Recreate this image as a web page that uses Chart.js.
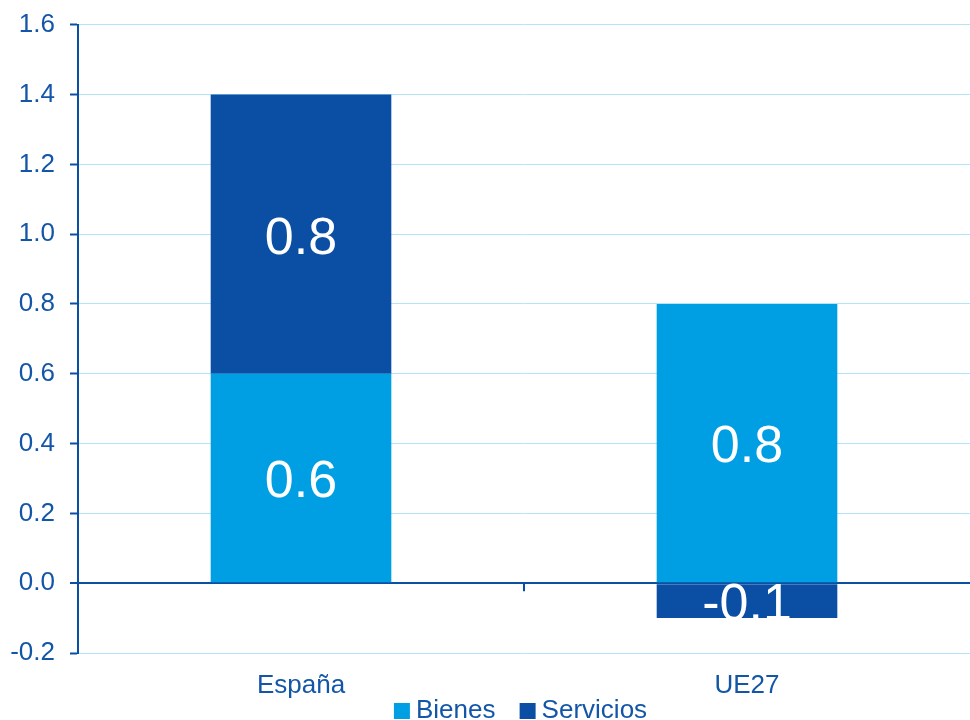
<!DOCTYPE html>
<html>
<head>
<meta charset="utf-8">
<script src="https://cdn.jsdelivr.net/npm/chart.js@4.4.1/dist/chart.umd.min.js"></script>
<style>
  html, body { margin: 0; padding: 0; background: #fff; }
  #wrap { width: 970px; height: 720px; }
</style>
</head>
<body>
<div id="wrap"><canvas id="chart" width="970" height="720"></canvas></div>
<script>
const categories = ['España', 'UE27'];
const bienes = [0.6, 0.8];
const servicios = [0.8, -0.1];
const yTicks = [-0.2, 0.0, 0.2, 0.4, 0.6, 0.8, 1.0, 1.2, 1.4, 1.6];

const LIGHT = '#009FE3';
const DARK = '#0A4FA3';
const TEXT = '#1356A8';
const GRID = '#b3e4f8';
const FONT = '"Liberation Sans", Arial, sans-serif';

// white value labels centred in each segment
const valueLabels = {
  id: 'valueLabels',
  afterDatasetsDraw(chart) {
    const ctx = chart.ctx;
    ctx.save();
    ctx.fillStyle = '#fff';
    ctx.font = '52px ' + FONT;
    ctx.textAlign = 'center';
    ctx.textBaseline = 'middle';
    chart.data.datasets.forEach((ds, i) => {
      chart.getDatasetMeta(i).data.forEach((bar, j) => {
        const v = ds.data[j];
        ctx.fillText(v.toFixed(1), bar.x, (bar.y + bar.base) / 2 + 5);
      });
    });
    ctx.restore();
  }
};

// small tick on the zero line between the two categories
const midTick = {
  id: 'midTick',
  afterDraw(chart) {
    const x = chart.scales.x.getPixelForValue(0.5);
    const y = chart.scales.y.getPixelForValue(0);
    const ctx = chart.ctx;
    ctx.save();
    ctx.strokeStyle = DARK;
    ctx.lineWidth = 2;
    ctx.beginPath();
    ctx.moveTo(x, y);
    ctx.lineTo(x, y + 8);
    ctx.stroke();
    ctx.restore();
  }
};

new Chart(document.getElementById('chart'), {
  type: 'bar',
  data: {
    labels: categories,
    datasets: [
      { label: 'Bienes', data: bienes, backgroundColor: LIGHT },
      { label: 'Servicios', data: servicios, backgroundColor: DARK }
    ]
  },
  options: {
    responsive: false,
    animation: false,
    layout: { padding: { top: 0, left: 0, right: 0, bottom: -14 } },
    datasets: { bar: { categoryPercentage: 1, barPercentage: 0.405 } },
    plugins: {
      legend: {
        position: 'bottom',
        fullSize: false,
        labels: {
          color: TEXT,
          font: { family: FONT, size: 26 },
          usePointStyle: true,
          pointStyle: 'rect',
          boxWidth: 2,
          boxHeight: 16,
          padding: 0,
          generateLabels: (chart) => Chart.defaults.plugins.legend.labels.generateLabels(chart)
            .map((l, i, all) => Object.assign(l, { text: i < all.length - 1 ? l.text + '\u2003\u2009' : l.text }))
        }
      },
      tooltip: { enabled: false }
    },
    scales: {
      x: {
        stacked: true,
        grid: { display: false },
        border: { display: false },
        ticks: { color: TEXT, font: { family: FONT, size: 26, lineHeight: 1 }, padding: 12 },
        afterFit: (axis) => { axis.height = 45; }
      },
      y: {
        stacked: true,
        min: -0.2,
        max: 1.6,
        afterBuildTicks: (axis) => { axis.ticks = yTicks.map(v => ({ value: v })); },
        afterFit: (axis) => { axis.width = 78; },
        grid: {
          color: (c) => (c.tick && Math.abs(c.tick.value) < 1e-9) ? DARK : GRID,
          lineWidth: (c) => (c.tick && Math.abs(c.tick.value) < 1e-9) ? 2 : 1,
          tickColor: DARK,
          tickWidth: 2,
          tickLength: 8
        },
        border: { display: true, color: DARK, width: 2 },
        ticks: {
          color: TEXT,
          font: { family: FONT, size: 26, lineHeight: 0.75 },
          padding: 15,
          callback: (v) => Number(v).toFixed(1)
        }
      }
    }
  },
  plugins: [valueLabels, midTick]
});
</script>
</body>
</html>
